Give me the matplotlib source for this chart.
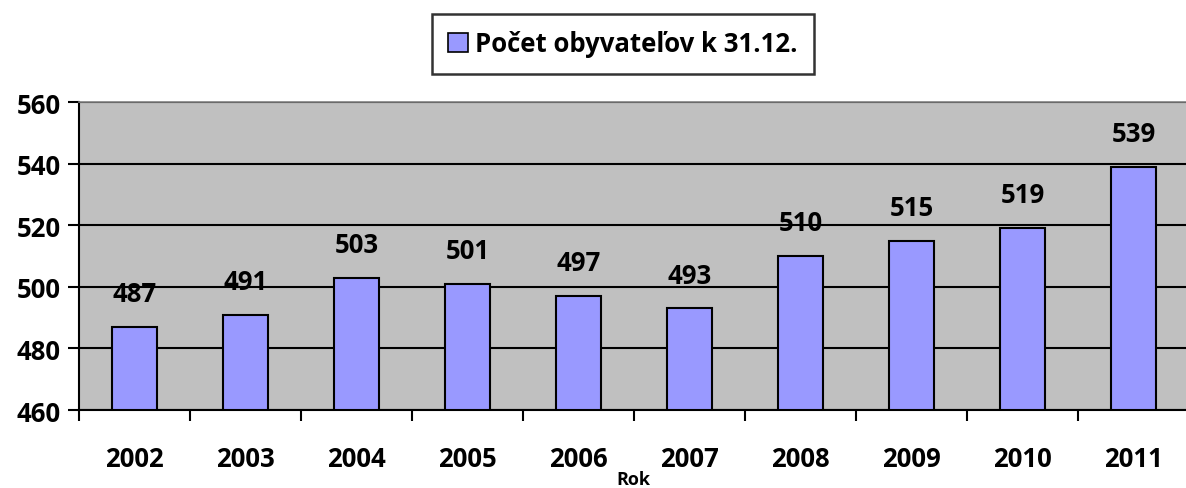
import numpy as np
import matplotlib.pyplot as plt
from matplotlib.patches import Patch

years = ["2002", "2003", "2004", "2005", "2006", "2007", "2008", "2009", "2010", "2011"]
population = [487, 491, 503, 501, 497, 493, 510, 515, 519, 539]
y_ticks = [460, 480, 500, 520, 540, 560]

plt.rcParams["font.family"] = "Open Sans"
plt.rcParams["font.weight"] = "bold"

W, H = 1186, 489
fig = plt.figure(figsize=(W / 100, H / 100), dpi=100)
ax = fig.add_axes([79 / W, (H - 411) / H, 1110 / W, 308 / H])
ax.set_facecolor("#C0C0C0")

x = np.arange(len(years))
ax.bar(x, [p - 460 for p in population], bottom=460, width=0.4,
       color="#9999FF", edgecolor="black", linewidth=1.5, zorder=3)

for xi, p in zip(x, population):
    ax.annotate(str(p), (xi, p), xytext=(0, 24), textcoords="offset points",
                ha="center", va="center", fontsize=18.5, fontweight="bold")

ax.set_xlim(-0.5, len(years) - 0.5)
ax.set_ylim(460, 560)
ax.set_yticks(y_ticks)
ax.set_yticklabels([str(t) for t in y_ticks], fontsize=18.5, fontweight="bold")
ax.yaxis.grid(True, color="black", linewidth=1.5, zorder=1)
ax.set_axisbelow(True)

ax.set_xticks(x)
ax.set_xticklabels(years, fontsize=18.5, fontweight="bold")
ax.set_xticks(np.arange(-0.5, len(years)), minor=True)
ax.tick_params(axis="x", which="major", length=0, pad=25)
ax.tick_params(axis="x", which="minor", length=8, width=1.5, direction="out")
ax.tick_params(axis="y", length=8, width=1.5, direction="out", pad=5)

ax.spines["left"].set_linewidth(1.5)
ax.spines["bottom"].set_linewidth(1.5)
ax.spines["top"].set_color("#808080")
ax.spines["top"].set_linewidth(1.2)
ax.spines["right"].set_visible(False)

fig.text(633 / W, 1 - 480 / H, "Rok", ha="center", va="center",
         fontsize=13, fontweight="bold")

handle = Patch(facecolor="#9999FF", edgecolor="black", linewidth=1.2)
leg = fig.legend([handle], ["Počet obyvateľov k 31.12."], loc="center",
                 bbox_to_anchor=(623 / W, 1 - 45 / H), fontsize=18.5,
                 frameon=True, fancybox=False, edgecolor="black",
                 handlelength=0.75, handleheight=0.75, handletextpad=0.3,
                 borderpad=0.65, borderaxespad=0)
leg.get_frame().set_linewidth(1.8)
for t in leg.get_texts():
    t.set_fontweight("bold")

fig.savefig("out.png", dpi=100)
